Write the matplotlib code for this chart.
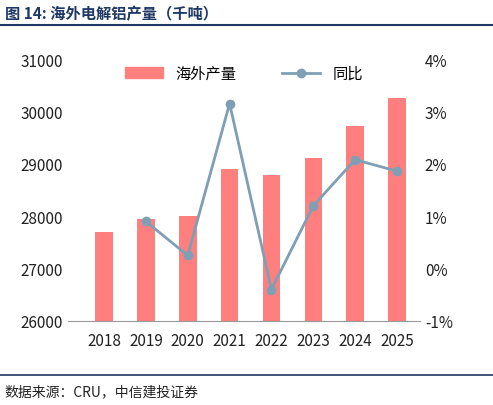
import matplotlib
matplotlib.use("Agg")
import matplotlib.pyplot as plt
from matplotlib.lines import Line2D

plt.rcParams["font.family"] = ["Noto Sans CJK SC", "DejaVu Sans"]

years = ["2018", "2019", "2020", "2021", "2022", "2023", "2024", "2025"]
output = [27700, 27950, 28000, 28900, 28780, 29120, 29720, 30260]
yoy_years = years[1:]
yoy = [0.90, 0.25, 3.15, -0.40, 1.20, 2.08, 1.86]

BAR = "#FF7F7F"
LINE = "#7F9FB5"
NAVY = "#1F3864"

fig = plt.figure(figsize=(4.93, 4.06), dpi=100, facecolor="white")
ax = fig.add_axes([0.138, 0.207, 0.714, 0.645])
x = list(range(len(years)))
ax.bar(x, [v - 26000 for v in output], bottom=26000, width=0.42, color=BAR, zorder=2)
ax.set_ylim(26000, 31000)
ax.set_yticks(range(26000, 31001, 1000))
ax.set_xlim(-0.86, len(years) - 0.45)
ax.set_xticks(x)
ax.set_xticklabels(years)

ax2 = ax.twinx()
ax2.plot([years.index(y) for y in yoy_years], yoy, color=LINE, lw=2,
         marker="o", ms=6, zorder=3)
ax2.set_ylim(-1, 4)
ax2.set_yticks(range(-1, 5))
ax2.set_yticklabels([f"{v}%" for v in range(-1, 5)])

for a in (ax, ax2):
    for s in a.spines.values():
        s.set_visible(False)
    a.tick_params(length=0, labelsize=11, colors="#222")
ax.spines["bottom"].set_visible(True)
ax.spines["bottom"].set_color("#999")
ax.tick_params(axis="x", pad=8)

handles = [plt.Rectangle((0, 0), 1, 1, color=BAR),
           Line2D([0], [0], color=LINE, lw=2, marker="o", ms=6)]
ax.legend(handles, ["海外产量", "同比"], loc="upper center", ncol=2, frameon=False,
          fontsize=11, bbox_to_anchor=(0.5, 1.03), columnspacing=3, handlelength=2.5)

fig.text(0.01, 0.965, "图 14: 海外电解铝产量（千吨）", fontsize=11, fontweight="bold",
         color=NAVY, va="center")
fig.add_artist(Line2D([0.0, 1.0], [0.935, 0.935], color=NAVY, lw=1.5))
fig.add_artist(Line2D([0.0, 1.0], [0.075, 0.075], color=NAVY, lw=1.2))
fig.text(0.01, 0.035, "数据来源：CRU，中信建投证券", fontsize=10, style="italic",
         color="#222", va="center")

fig.savefig("out.png", dpi=100, facecolor="white")
